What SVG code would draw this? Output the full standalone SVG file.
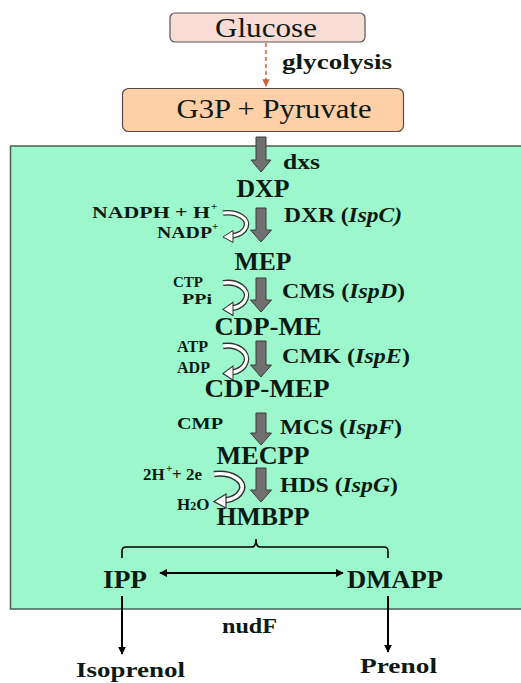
<svg xmlns="http://www.w3.org/2000/svg" xmlns:xlink="http://www.w3.org/1999/xlink" width="521" height="683" viewBox="0 0 521 683" font-family="'Liberation Serif', Tinos, 'Times New Roman', serif">
<style>
text{font-family:'Liberation Serif',Tinos,'Times New Roman',serif;fill:#0d1a12}
.b{font-weight:bold}
.big{font-weight:bold;font-size:25px}
.med{font-weight:bold;font-size:21px}
.sm{font-weight:bold;font-size:17px}
.xs{font-weight:bold;font-size:15.5px}
.sup{font-size:11px}
.blk{fill:#707070;stroke:#3c3c3c;stroke-width:1}
.ln{stroke:#000;stroke-width:2;fill:none}
</style>
<defs>
<marker id="ah" viewBox="0 0 10 10" refX="9" refY="5" markerWidth="4" markerHeight="4" orient="auto-start-reverse">
<path d="M0,0 L10,5 L0,10 z" fill="#000"/>
</marker>
<marker id="ahr" viewBox="0 0 10 10" refX="9" refY="5" markerWidth="5" markerHeight="5" orient="auto">
<path d="M0,0 L10,5 L0,10 z" fill="#d0603a"/>
</marker>
<g id="curl">
<path d="M0,0 C15,-2 26,6 23,14 C21,19 16,22 9,23" stroke="#333" stroke-width="5.5" fill="none"/>
<path d="M0,0 C15,-2 26,6 23,14 C21,19 16,22 9,23" stroke="#fff" stroke-width="3" fill="none"/>
<polygon points="0,24 10,17.5 10,29.5" fill="#fff" stroke="#333" stroke-width="1"/>
</g>
</defs>

<rect id="bg-panel" x="10.5" y="146" width="520" height="463" fill="#9cf7cc" stroke="#4a5f52" stroke-width="1.5"/>

<g id="glucose">
<rect x="170" y="13" width="195" height="29" rx="5" fill="#f9dcd6" stroke="#555" stroke-width="1.2"/>
<text x="266" y="37" font-size="27" text-anchor="middle" textLength="102" lengthAdjust="spacingAndGlyphs">Glucose</text>
</g>
<g id="g3p">
<rect x="122.5" y="88.5" width="281" height="43" rx="6" fill="#ffcfa8" stroke="#5a4a46" stroke-width="1.2"/>
<text x="274" y="118" font-size="28" text-anchor="middle" textLength="195" lengthAdjust="spacingAndGlyphs">G3P + Pyruvate</text>
</g>

<g id="connectors">
<line x1="266" y1="43" x2="266" y2="86" stroke="#d0603a" stroke-width="1.5" stroke-dasharray="4,3" marker-end="url(#ahr)"/>
<polygon class="blk" points="256,137 266,137 266,160 271,160 261,172 251,160 256,160"/>
<polygon class="blk" points="256,208 266,208 266,230 271.5,230 261,242 250.5,230 256,230"/>
<polygon class="blk" points="256,278 266,278 266,300 271.5,300 261,312 250.5,300 256,300"/>
<polygon class="blk" points="256,341 266,341 266,365 271.5,365 261,377 250.5,365 256,365"/>
<polygon class="blk" points="256,413 266,413 266,433 271.5,433 261,445 250.5,433 256,433"/>
<polygon class="blk" points="256,468 266,468 266,490 271.5,490 261,502 250.5,490 256,490"/>
<use xlink:href="#curl" transform="translate(223,213)"/>
<use xlink:href="#curl" transform="translate(223,283) scale(1,1.1)"/>
<use xlink:href="#curl" transform="translate(223,346) scale(1,1.15)"/>
<use xlink:href="#curl" transform="translate(214,474) scale(1.2,1.15)"/>
<path class="ln" style="stroke-width:1.6" d="M122,558 V551 Q122,547 126,547 H252 Q256,547 256,539 Q256,547 260,547 H384 Q388,547 388,551 V558"/>
<line class="ln" x1="160" y1="573" x2="343" y2="573" marker-start="url(#ah)" marker-end="url(#ah)"/>
<line class="ln" x1="122" y1="596" x2="122" y2="654" marker-end="url(#ah)"/>
<line class="ln" x1="388" y1="596" x2="388" y2="652" marker-end="url(#ah)"/>
</g>

<g id="labels">
<text class="b" x="282" y="69" font-size="21" textLength="110" lengthAdjust="spacingAndGlyphs">glycolysis</text>
<text class="med" x="283" y="169" textLength="37" lengthAdjust="spacingAndGlyphs">dxs</text>
</g>

<g id="dxp"><text class="big" x="263" y="197" text-anchor="middle" textLength="53" lengthAdjust="spacingAndGlyphs">DXP</text></g>
<g id="dxr-step">
<text class="sm" x="92" y="218" textLength="118" lengthAdjust="spacingAndGlyphs">NADPH + H</text><text class="b sup" x="211" y="210">+</text>
<text class="sm" x="157" y="238" textLength="55" lengthAdjust="spacingAndGlyphs">NADP</text><text class="b sup" x="212" y="230">+</text>
<text class="med" x="284" y="222" textLength="118" lengthAdjust="spacingAndGlyphs">DXR (<tspan font-style="italic">IspC)</tspan></text>
</g>
<g id="mep"><text class="big" x="263" y="270" text-anchor="middle" textLength="57" lengthAdjust="spacingAndGlyphs">MEP</text></g>
<g id="cms-step">
<text class="xs" x="173" y="287" textLength="30" lengthAdjust="spacingAndGlyphs">CTP</text>
<text class="xs" x="182" y="304" textLength="30" lengthAdjust="spacingAndGlyphs">PPi</text>
<text class="med" x="282" y="298" textLength="123" lengthAdjust="spacingAndGlyphs">CMS (<tspan font-style="italic">IspD</tspan>)</text>
</g>
<g id="cdp-me"><text class="big" x="268" y="335" text-anchor="middle" textLength="107" lengthAdjust="spacingAndGlyphs">CDP-ME</text></g>
<g id="cmk-step">
<text class="sm" x="177" y="352" textLength="31" lengthAdjust="spacingAndGlyphs">ATP</text>
<text class="sm" x="177" y="373" textLength="33" lengthAdjust="spacingAndGlyphs">ADP</text>
<text class="med" x="282" y="363" textLength="128" lengthAdjust="spacingAndGlyphs">CMK (<tspan font-style="italic">IspE</tspan>)</text>
</g>
<g id="cdp-mep"><text class="big" x="267" y="397" text-anchor="middle" textLength="125" lengthAdjust="spacingAndGlyphs">CDP-MEP</text></g>
<g id="mcs-step">
<text class="sm" x="177" y="429" textLength="46" lengthAdjust="spacingAndGlyphs">CMP</text>
<text class="med" x="280" y="434" textLength="122" lengthAdjust="spacingAndGlyphs">MCS (<tspan font-style="italic">IspF</tspan>)</text>
</g>
<g id="mecpp"><text class="big" x="263" y="464" text-anchor="middle" textLength="93" lengthAdjust="spacingAndGlyphs">MECPP</text></g>
<g id="hds-step">
<text class="sm" x="143" y="480">2H</text><text class="b sup" x="166" y="472">+</text><text class="sm" x="172" y="480">+ 2e</text>
<text class="sm" x="177" y="510">H<tspan font-size="12">2</tspan>O</text>
<text class="med" x="280" y="492" textLength="118" lengthAdjust="spacingAndGlyphs">HDS (<tspan font-style="italic">IspG</tspan>)</text>
</g>
<g id="hmbpp"><text class="big" x="263" y="525" text-anchor="middle" textLength="93" lengthAdjust="spacingAndGlyphs">HMBPP</text></g>
<g id="ipp"><text class="big" x="103" y="588" textLength="44" lengthAdjust="spacingAndGlyphs">IPP</text></g>
<g id="dmapp"><text class="big" x="347" y="588" textLength="96" lengthAdjust="spacingAndGlyphs">DMAPP</text></g>
<g id="nudf"><text class="b" x="222" y="633" font-size="22" textLength="55" lengthAdjust="spacingAndGlyphs">nudF</text></g>
<g id="isoprenol"><text class="b" x="76" y="677" font-size="22" textLength="109" lengthAdjust="spacingAndGlyphs">Isoprenol</text></g>
<g id="prenol"><text class="b" x="360" y="673" font-size="22" textLength="77" lengthAdjust="spacingAndGlyphs">Prenol</text></g>
</svg>
